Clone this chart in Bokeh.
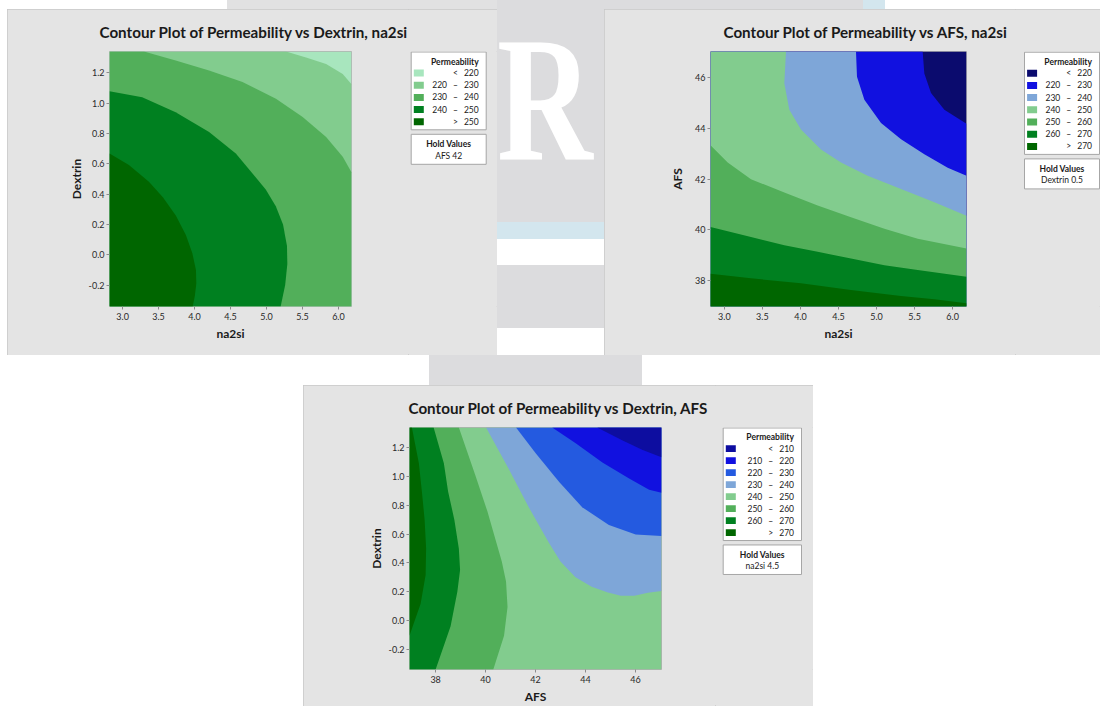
from bokeh.plotting import figure
from bokeh.models import FixedTicker, NumeralTickFormatter, Spacer, Range1d, Div
from bokeh.layouts import column, row
from bokeh.embed import file_html
from bokeh.resources import INLINE
from bokeh.core.properties import value

FONT = "Lato"
FS = "\u2007"   # figure space (digit width)
TS = "\u2009"   # thin space

# ---------------------------------------------------------------- data
na2si_range = [2.818, 6.182]
dextrin_range = [-0.341, 1.341]
afs_range = [36.954, 47.046]

na2si_ticks = [3.0, 3.5, 4.0, 4.5, 5.0, 5.5, 6.0]
dextrin_ticks = [-0.2, 0.0, 0.2, 0.4, 0.6, 0.8, 1.0, 1.2]
afs_ticks = [38, 40, 42, 44, 46]

# Plot 1: Permeability vs Dextrin, na2si  (hold AFS = 42)
p1_levels = [220, 230, 240, 250]
p1_colors = ["#A8E6BE", "#82CC8E", "#52AF5A", "#008020", "#006600"]
p1_hold = ("AFS", "42")
p1_c220_x = [5.271, 5.550, 5.829, 6.060, 6.182]
p1_c220_y = [1.341, 1.302, 1.259, 1.193, 1.125]
p1_c230_x = [3.297, 3.738, 4.202, 4.667, 5.132, 5.503, 5.829, 6.060, 6.182]
p1_c230_y = [1.341, 1.281, 1.215, 1.139, 1.029, 0.909, 0.777, 0.646, 0.545]
p1_c240_x = [2.818, 3.273, 3.738, 4.202, 4.574, 4.806, 4.990, 5.130, 5.230, 5.285, 5.290, 5.260, 5.197]
p1_c240_y = [1.079, 1.040, 0.941, 0.810, 0.668, 0.537, 0.430, 0.320, 0.200, 0.060, -0.060, -0.200, -0.341]
p1_c250_x = [2.818, 3.088, 3.366, 3.560, 3.740, 3.880, 3.970, 4.020, 4.025, 4.005, 3.975]
p1_c250_y = [0.668, 0.592, 0.482, 0.380, 0.260, 0.130, 0.010, -0.100, -0.190, -0.270, -0.341]

# Plot 2: Permeability vs AFS, na2si  (hold Dextrin = 0.5)
p2_levels = [220, 230, 240, 250, 260, 270]
p2_colors = ["#0B0B6E", "#1111E0", "#7EA6D8", "#82CC8E", "#52AF5A", "#008020", "#006600"]
p2_hold = ("Dextrin", "0.5")
p2_c220_x = [5.606, 5.628, 5.716, 5.891, 6.182]
p2_c220_y = [47.046, 46.18, 45.40, 44.74, 44.19]
p2_c230_x = [4.730, 4.743, 4.840, 5.059, 5.322, 5.628, 5.935, 6.182]
p2_c230_y = [47.046, 46.05, 45.14, 44.22, 43.57, 42.98, 42.45, 42.13]
p2_c240_x = [3.810, 3.788, 3.854, 4.007, 4.270, 4.533, 4.883, 5.322, 5.760, 6.182]
p2_c240_y = [47.046, 45.79, 44.74, 43.96, 43.17, 42.65, 42.13, 41.60, 41.08, 40.55]
p2_c250_x = [2.818, 3.044, 3.350, 3.788, 4.226, 4.664, 5.103, 5.541, 6.182]
p2_c250_y = [43.34, 42.65, 41.99, 41.47, 40.95, 40.49, 40.03, 39.64, 39.25]
p2_c260_x = [2.818, 3.350, 3.788, 4.226, 4.664, 5.103, 5.541, 6.182]
p2_c260_y = [40.10, 39.70, 39.38, 39.12, 38.85, 38.59, 38.40, 38.13]
p2_c270_x = [2.818, 3.350, 4.007, 4.664, 5.322, 5.760, 6.182]
p2_c270_y = [38.25, 38.07, 37.87, 37.61, 37.37, 37.24, 37.08]

# Plot 3: Permeability vs Dextrin, AFS  (hold na2si = 4.5)
p3_levels = [210, 220, 230, 240, 250, 260, 270]
p3_colors = ["#0D0DA0", "#1111E0", "#245AE0", "#7EA6D8", "#82CC8E", "#52AF5A", "#008020", "#006600"]
p3_hold = ("na2si", "4.5")
p3_c210_x = [44.47, 45.47, 46.27, 47.046]
p3_c210_y = [1.341, 1.253, 1.187, 1.135]
p3_c220_x = [42.67, 43.61, 44.68, 45.75, 46.55, 47.046]
p3_c220_y = [1.341, 1.231, 1.097, 0.987, 0.909, 0.887]
p3_c230_x = [41.22, 42.00, 42.94, 43.87, 44.94, 46.01, 47.046]
p3_c230_y = [1.341, 1.164, 0.964, 0.787, 0.664, 0.597, 0.587]
p3_c240_x = [40.02, 40.93, 41.73, 42.53, 43.00, 43.60, 44.25, 44.90, 45.42, 45.96, 46.50, 47.046]
p3_c240_y = [1.341, 1.053, 0.787, 0.542, 0.409, 0.300, 0.235, 0.195, 0.172, 0.172, 0.193, 0.204]
p3_c250_x = [38.93, 39.59, 40.07, 40.40, 40.65, 40.82, 40.88, 40.74, 40.31]
p3_c250_y = [1.341, 1.009, 0.760, 0.560, 0.409, 0.271, 0.093, -0.107, -0.341]
p3_c260_x = [37.92, 38.33, 38.50, 38.75, 38.93, 38.98, 38.87, 38.60, 38.00]
p3_c260_y = [1.341, 1.093, 0.897, 0.700, 0.500, 0.350, 0.200, -0.040, -0.341]
p3_c270_x = [37.05, 37.33, 37.45, 37.56, 37.62, 37.60, 37.40, 37.13, 36.954]
p3_c270_y = [1.341, 1.093, 0.897, 0.700, 0.500, 0.316, 0.116, -0.018, -0.107]

# ---------------------------------------------------------------- styling helpers
PANEL_BG = "#E4E4E4"
TXT = "#1A1A1A"
PANEL_STYLE = {"outline": "1px solid #C8C8C8", "outline-offset": "-1px", "background": PANEL_BG}


def range_labels(levels):
    sep = FS + TS
    labels = ["<" + sep + str(levels[0])]
    for a, b in zip(levels[:-1], levels[1:]):
        labels.append(f"{a}{sep}\u2013{sep}{b}")
    labels.append(">" + sep + str(levels[-1]))
    return labels


def contour_fig(cfg):
    xr, yr = cfg["xr"], cfg["yr"]
    bl, br, bt, bb = cfg["b"]
    p = figure(width=cfg["w"], height=cfg["h"],
               x_range=Range1d(*xr), y_range=Range1d(*yr),
               min_border_left=bl, min_border_right=br,
               min_border_top=bt, min_border_bottom=bb,
               toolbar_location=None, output_backend="svg")
    p.background_fill_color = PANEL_BG
    p.border_fill_color = PANEL_BG
    p.outline_line_color = "#B0B0B0"
    p.grid.visible = False

    p.title.text = cfg["title"]
    p.title.text_font = FONT
    p.title.text_font_size = "15.2px"
    p.title.text_font_style = "bold"
    p.title.text_color = TXT
    p.title.align = "left"
    p.title.offset = cfg["title_offset"]
    p.title.standoff = 21

    p.xaxis.ticker = FixedTicker(ticks=cfg["xticks"])
    p.yaxis.ticker = FixedTicker(ticks=cfg["yticks"])
    p.xaxis.formatter = NumeralTickFormatter(format=cfg["xfmt"])
    p.yaxis.formatter = NumeralTickFormatter(format=cfg["yfmt"])
    p.xaxis.axis_label = cfg["xlabel"]
    p.yaxis.axis_label = cfg["ylabel"]
    for ax in (p.xaxis[0], p.yaxis[0]):
        ax.axis_line_color = None
        ax.major_tick_line_color = "#8C8C8C"
        ax.major_tick_out = 3
        ax.major_tick_in = 0
        ax.minor_tick_line_color = None
        ax.major_label_text_font = FONT
        ax.major_label_text_font_size = "9px"
        ax.major_label_text_color = "#2A2A2A"
        ax.axis_label_text_font = FONT
        ax.axis_label_text_font_size = "12px"
        ax.axis_label_text_font_style = "bold"
        ax.axis_label_text_color = TXT
    p.xaxis.major_label_standoff = 3
    p.xaxis.axis_label_standoff = 3
    p.yaxis.major_label_standoff = 2
    p.yaxis.axis_label_standoff = cfg["ylabel_standoff"]

    corners = {"tl": (xr[0], yr[1]), "tr": (xr[1], yr[1]),
               "bl": (xr[0], yr[0]), "br": (xr[1], yr[0])}
    colors = cfg["colors"]
    bi = cfg["base"]
    p.patch([xr[0], xr[1], xr[1], xr[0]], [yr[0], yr[0], yr[1], yr[1]],
            fill_color=colors[bi], line_color=None)
    for cx, cy, cl, idx in cfg["bands"]:
        xs = list(cx) + [corners[c][0] for c in cl]
        ys = list(cy) + [corners[c][1] for c in cl]
        p.patch(xs, ys, fill_color=colors[idx], line_color=None)
    return p


def legend_fig(cfg):
    """Minitab-style legend drawn in a small pixel-space figure next to the plot."""
    x0, x1 = cfg["xspan"]
    ft, fb = cfg["frame"]          # frame top / bottom in page pixels
    bt, bb = cfg["bt"], cfg["bb"]
    f = figure(width=x1 - x0, height=bt + (fb - ft) + bb,
               x_range=Range1d(x0, x1), y_range=Range1d(fb, ft),
               min_border_left=0, min_border_right=0,
               min_border_top=bt, min_border_bottom=bb,
               toolbar_location=None, output_backend="svg")
    f.axis.visible = False
    f.grid.visible = False
    f.outline_line_color = None
    f.background_fill_color = PANEL_BG
    f.border_fill_color = PANEL_BG

    L, R, T = cfg["box"]
    labels = range_labels(cfg["levels"])
    n = len(labels)
    pitch = 12.2
    ys = [T + 21 + pitch * i for i in range(n)]
    B = ys[-1] + 8
    f.quad(left=[L], right=[R], top=[T], bottom=[B], fill_color="white",
           line_color="#A6A6A6", line_width=1)
    f.text(x=[R - 7.5], y=[T + 9.5], text=["Permeability"], text_align="right",
           text_baseline="middle", text_font=value(FONT), text_font_size="8.5px",
           text_font_style="bold", text_color=TXT)
    f.rect(x=[L + 7.6] * n, y=ys, width=10, height=7, fill_color=cfg["colors"], line_color=None)
    f.text(x=[R - 7.5] * n, y=ys, text=labels, text_align="right", text_baseline="middle",
           text_font=value(FONT), text_font_size="8.5px", text_color=TXT)

    HT = B + 4.5
    HB = HT + 30
    cx = (L + R) / 2
    f.quad(left=[L], right=[R], top=[HT], bottom=[HB], fill_color="white",
           line_color="#A6A6A6", line_width=1)
    f.text(x=[cx], y=[HT + 9.7], text=["Hold Values"], text_align="center",
           text_baseline="middle", text_font=value(FONT), text_font_size="8.5px",
           text_font_style="bold", text_color=TXT)
    name, val = cfg["hold"]
    f.text(x=[cx], y=[HT + 21.5], text=[f"{name} {val}"], text_align="center",
           text_baseline="middle", text_font=value(FONT), text_font_size="8.5px",
           text_color=TXT)
    return f


# ---------------------------------------------------------------- panels
p1 = contour_fig(dict(
    w=401, h=346, b=(102, 57, 42, 49), xr=na2si_range, yr=dextrin_range,
    title="Contour Plot of Permeability vs Dextrin, na2si", title_offset=-10,
    xticks=na2si_ticks, yticks=dextrin_ticks, xfmt="0.0", yfmt="0.0",
    xlabel="na2si", ylabel="Dextrin", ylabel_standoff=2,
    colors=p1_colors, base=0,
    bands=[(p1_c220_x, p1_c220_y, ["br", "bl", "tl"], 1),
           (p1_c230_x, p1_c230_y, ["br", "bl", "tl"], 2),
           (p1_c240_x, p1_c240_y, ["bl"], 3),
           (p1_c250_x, p1_c250_y, ["bl"], 4)]))
l1 = legend_fig(dict(xspan=(408, 497), frame=(51, 306), bt=42, bb=49,
                     box=(410.7, 485.7, 51.5), levels=p1_levels, colors=p1_colors, hold=p1_hold))

p2 = contour_fig(dict(
    w=411, h=346, b=(106, 49, 42, 49), xr=na2si_range, yr=afs_range,
    title="Contour Plot of Permeability vs AFS, na2si", title_offset=13,
    xticks=na2si_ticks, yticks=afs_ticks, xfmt="0.0", yfmt="0",
    xlabel="na2si", ylabel="AFS", ylabel_standoff=7,
    colors=p2_colors, base=0,
    bands=[(p2_c220_x, p2_c220_y, ["br", "bl", "tl"], 1),
           (p2_c230_x, p2_c230_y, ["br", "bl", "tl"], 2),
           (p2_c240_x, p2_c240_y, ["br", "bl", "tl"], 3),
           (p2_c250_x, p2_c250_y, ["br", "bl"], 4),
           (p2_c260_x, p2_c260_y, ["br", "bl"], 5),
           (p2_c270_x, p2_c270_y, ["br", "bl"], 6)]))
l2 = legend_fig(dict(xspan=(1015, 1100), frame=(51, 306), bt=42, bb=49,
                     box=(1024, 1099, 51.7), levels=p2_levels, colors=p2_colors, hold=p2_hold))

p3 = contour_fig(dict(
    w=412, h=321, b=(106, 54, 42, 33), xr=afs_range, yr=dextrin_range,
    title="Contour Plot of Permeability vs Dextrin, AFS", title_offset=-1,
    xticks=afs_ticks, yticks=dextrin_ticks, xfmt="0", yfmt="0.0",
    xlabel="AFS", ylabel="Dextrin", ylabel_standoff=2,
    colors=p3_colors, base=4,
    bands=[(p3_c240_x, p3_c240_y, ["tr"], 3),
           (p3_c230_x, p3_c230_y, ["tr"], 2),
           (p3_c220_x, p3_c220_y, ["tr"], 1),
           (p3_c210_x, p3_c210_y, ["tr"], 0),
           (p3_c250_x, p3_c250_y, ["bl", "tl"], 5),
           (p3_c260_x, p3_c260_y, ["bl", "tl"], 6),
           (p3_c270_x, p3_c270_y, ["tl"], 7)]))
l3 = legend_fig(dict(xspan=(715, 813), frame=(427, 673), bt=42, bb=33,
                     box=(722.7, 801, 427.5), levels=p3_levels, colors=p3_colors, hold=p3_hold))

# ---------------------------------------------------------------- page background (watermark pieces)
strip_left = Div(width=497, height=9, margin=0, styles={
    "background": "linear-gradient(to right, #ffffff 0px, #ffffff 227px, #E1E1E2 227px, #E1E1E2 497px)"})
strip_right = Div(width=496, height=9, margin=0, styles={
    "background": "linear-gradient(to right, #DCDCDE 0px, #DCDCDE 259px, #D3E6EE 259px, "
                  "#D3E6EE 281px, #ffffff 281px)"})

gap_html = ("<span style=\"position:absolute; left:0px; top:0px; line-height:198px; "
            "font-family:'Liberation Serif', serif; font-weight:bold; font-size:179px; "
            "color:#ffffff; transform:scaleX(0.74); transform-origin:0 0;\">R</span>")
gap = Div(text=gap_html, width=107, height=355, margin=0, styles={
    "position": "relative", "overflow": "hidden",
    "background": "linear-gradient(to bottom, #DCDCDE 0px, #DCDCDE 222px, #D3E6EE 222px, "
                  "#D3E6EE 239px, #ffffff 239px, #ffffff 265px, #DCDCDE 265px, #DCDCDE 328px, "
                  "#ffffff 328px, #ffffff 355px)"})

mid_strip = Div(width=1100, height=30, margin=0, styles={
    "background": "linear-gradient(to right, #ffffff 0px, #ffffff 429px, #DCDCDE 429px, "
                  "#DCDCDE 642px, #ffffff 642px)"})

panel1 = row(p1, l1, styles=PANEL_STYLE)
panel2 = row(p2, l2, styles=PANEL_STYLE)
panel3 = row(p3, l3, styles=PANEL_STYLE)

left_col = column(strip_left, row(Spacer(width=7, height=346), panel1))
right_col = column(strip_right, panel2)

layout = column(
    row(left_col, gap, right_col),
    mid_strip,
    row(Spacer(width=303, height=321), panel3, Spacer(width=287, height=321)),
)

open("out.html", "w").write(file_html(layout, INLINE))
